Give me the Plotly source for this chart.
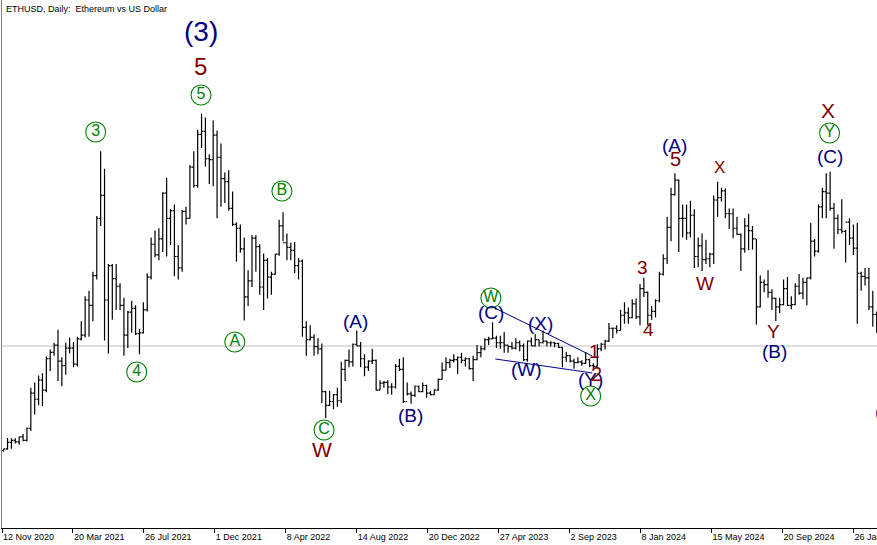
import pandas as pd
import plotly.graph_objects as go

# weekly bars (ETHUSD), weeks starting Thursdays
FIRST_WEEK = "2020-11-12"
FIRST_OPEN = 460

week_high = [
    480, 622, 620, 620, 640, 675, 760, 1280, 1350, 1440, 1470, 1690, 1780, 1870, 2040, 1680,
    1870, 1940, 1880, 1950, 2150, 2480, 2550, 2800, 3530, 4380, 4150, 2900, 2900, 2900, 2650, 2460,
    2290, 2420, 2360, 2050, 2400, 2780, 3250, 3340, 3370, 3840, 4030, 3620, 3680, 3150, 3610, 3650,
    4200, 4380, 4660, 4870, 4820, 4340, 4780, 4650, 4480, 4100, 4130, 3850, 3450, 3420, 3250, 2820,
    3280, 3280, 3160, 3040, 2980, 2800, 3030, 3480, 3580, 3300, 3180, 3190, 2980, 2960, 2150, 2100,
    1980, 1930, 1860, 1240, 1240, 1200, 1280, 1620, 1650, 1780, 1860, 2030, 1880, 1720, 1640, 1790,
    1650, 1380, 1370, 1380, 1340, 1590, 1660, 1680, 1350, 1230, 1310, 1310, 1350, 1320, 1240, 1260,
    1400, 1610, 1680, 1660, 1720, 1690, 1740, 1680, 1670, 1700, 1840, 1830, 1930, 1950, 2140, 1960,
    1960, 2010, 1840, 1880, 1930, 1900, 1860, 1900, 1940, 1980, 1910, 2030, 1900, 1890, 1880, 1870,
    1810, 1750, 1710, 1660, 1680, 1640, 1750, 1660, 1600, 1850, 1870, 1910, 2130, 2070, 2100, 2300,
    2400, 2330, 2440, 2450, 2640, 2720, 2540, 2350, 2440, 2800, 3030, 3520, 3900, 4090, 4010, 3680,
    3680, 3730, 3620, 3250, 3300, 3220, 3050, 3800, 3980, 3900, 3890, 3630, 3630, 3520, 3300, 3500,
    3560, 3400, 3230, 2750, 2700, 2820, 2570, 2460, 2460, 2700, 2730, 2480, 2650, 2770, 2720, 2720,
    3440, 3230, 3680, 3900, 4090, 4110, 3700, 3550, 3750, 3350, 3500, 3420, 3440, 2800, 2850, 2850,
    2550, 2280,
]
week_low = [
    445, 468, 480, 550, 535, 580, 580, 715, 930, 1050, 1040, 1220, 1500, 1700, 1370, 1300,
    1450, 1730, 1550, 1560, 1900, 1940, 1950, 2150, 2700, 3400, 1900, 1730, 2170, 2300, 2300, 1700,
    1800, 2000, 1970, 1720, 1990, 2280, 2700, 2990, 2950, 3060, 3000, 3150, 2740, 2700, 2800, 3420,
    3500, 3900, 3900, 4420, 4180, 3950, 3920, 3500, 3650, 3700, 3600, 3400, 2930, 3050, 2160, 2350,
    2600, 2800, 2500, 2300, 2450, 2500, 2760, 3010, 3200, 2950, 2950, 2780, 2700, 1950, 1700, 1900,
    1700, 1720, 1080, 880, 1040, 1000, 1030, 1080, 1370, 1550, 1560, 1830, 1550, 1430, 1500, 1590,
    1240, 1250, 1280, 1200, 1190, 1270, 1500, 1080, 1180, 1070, 1160, 1220, 1220, 1150, 1180, 1190,
    1240, 1390, 1510, 1540, 1610, 1460, 1600, 1560, 1520, 1370, 1640, 1680, 1770, 1840, 1920, 1800,
    1790, 1740, 1740, 1780, 1780, 1760, 1630, 1620, 1830, 1820, 1820, 1860, 1820, 1820, 1810, 1800,
    1550, 1620, 1610, 1530, 1600, 1570, 1590, 1550, 1520, 1560, 1760, 1780, 1880, 1930, 1990, 2030,
    2120, 2120, 2190, 2180, 2100, 2470, 2100, 2170, 2200, 2400, 2750, 2900, 3200, 3800, 3060, 3250,
    3220, 3250, 2850, 2860, 2810, 2900, 2860, 2900, 3520, 3720, 3500, 3360, 3240, 3280, 2810, 3050,
    3080, 3090, 2110, 2330, 2530, 2460, 2300, 2150, 2260, 2360, 2350, 2310, 2360, 2500, 2440, 2360,
    2700, 3000, 3050, 3500, 3500, 3600, 3100, 3290, 3300, 2920, 3150, 3020, 2120, 2550, 2620, 2300,
    2080, 2000,
]
week_close = [
    480, 565, 590, 570, 636, 590, 750, 1210, 1130, 1380, 1250, 1660, 1745, 1840, 1630, 1570,
    1800, 1800, 1590, 1920, 1970, 2430, 2360, 2750, 3500, 3800, 2430, 2880, 2710, 2610, 2360, 1970,
    2270, 2320, 1990, 2000, 2300, 2730, 3160, 3020, 3230, 3830, 3500, 3600, 3000, 2850, 3590, 3500,
    4170, 3930, 4600, 4640, 4280, 4270, 4590, 4300, 4020, 3980, 3630, 3420, 3370, 3100, 2470, 2680,
    3240, 3130, 2600, 2950, 2730, 2770, 3030, 3400, 3180, 3120, 3080, 2880, 2940, 2070, 1910, 1940,
    1820, 1790, 1230, 1050, 1100, 1190, 1110, 1520, 1640, 1620, 1850, 1830, 1660, 1550, 1630, 1640,
    1250, 1340, 1350, 1290, 1290, 1560, 1520, 1100, 1200, 1180, 1300, 1230, 1310, 1210, 1190, 1250,
    1390, 1510, 1610, 1640, 1650, 1680, 1640, 1660, 1530, 1650, 1740, 1790, 1910, 1920, 1930, 1870,
    1870, 1840, 1820, 1800, 1870, 1830, 1650, 1890, 1830, 1910, 1870, 1890, 1870, 1870, 1860, 1810,
    1680, 1700, 1630, 1610, 1620, 1600, 1650, 1570, 1560, 1790, 1850, 1890, 2060, 2060, 2030, 2230,
    2260, 2200, 2380, 2210, 2580, 2530, 2230, 2280, 2420, 2770, 2970, 3380, 3810, 4000, 3500, 3500,
    3310, 3540, 3000, 3140, 2960, 2970, 3030, 3740, 3770, 3860, 3560, 3560, 3370, 3290, 3100, 3400,
    3340, 3230, 2340, 2660, 2630, 2530, 2450, 2340, 2370, 2580, 2360, 2370, 2610, 2520, 2660, 2720,
    3200, 3070, 3650, 3850, 3830, 3630, 3500, 3350, 3330, 3450, 3240, 3110, 2780, 2740, 2720, 2340,
    2240, 2050,
]
week_open = [FIRST_OPEN] + week_close[:-1]

tick_dates = ["2020-11-12", "2021-03-20", "2021-07-26", "2021-12-01", "2022-04-08", "2022-08-14",
              "2022-12-20", "2023-04-27", "2023-09-02", "2024-01-08", "2024-05-15", "2024-09-20",
              "2025-01-26"]
tick_text = ["12 Nov 2020", "20 Mar 2021", "26 Jul 2021", "1 Dec 2021", "8 Apr 2022", "14 Aug 2022",
             "20 Dec 2022", "27 Apr 2023", "2 Sep 2023", "8 Jan 2024", "15 May 2024", "20 Sep 2024",
             "26 Jan 2025"]

bid_price = 1827

NAVY = "#000080"
MAROON = "#800000"
GREEN = "#008000"

# wave labels: date, price, text, colour, font size
wave_labels = [
    ("2021-11-06", 5941, "(3)", NAVY, 28),
    ("2021-11-06", 5495, "5", MAROON, 24),
    ("2022-06-12", 465, "W", MAROON, 21),
    ("2022-08-11", 2142, "(A)", NAVY, 19),
    ("2022-11-19", 923, "(B)", NAVY, 19),
    ("2023-04-13", 2260, "(C)", NAVY, 19),
    ("2023-07-12", 2116, "(X)", NAVY, 19),
    ("2023-06-17", 1526, "(W)", NAVY, 19),
    ("2023-10-17", 1749, "1", MAROON, 19),
    ("2023-10-10", 1382, "(Y)", NAVY, 19),
    ("2023-10-21", 1461, "2", MAROON, 20),
    ("2024-01-12", 2862, "3", MAROON, 19),
    ("2024-01-22", 2037, "4", MAROON, 19),
    ("2024-03-09", 4460, "(A)", NAVY, 19),
    ("2024-03-11", 4277, "5", MAROON, 20),
    ("2024-05-30", 4172, "X", MAROON, 17),
    ("2024-05-03", 2640, "W", MAROON, 19),
    ("2024-09-04", 2011, "Y", MAROON, 19),
    ("2024-09-05", 1749, "(B)", NAVY, 19),
    ("2024-12-12", 4919, "X", MAROON, 21),
    ("2024-12-15", 4316, "(C)", NAVY, 19),
]

# circled labels (green)
circle_dates = ["2021-11-06", "2021-04-30", "2021-07-13", "2022-01-06", "2022-04-01", "2022-06-16",
                "2023-04-13", "2023-10-10", "2024-12-14"]
circle_prices = [5115, 4631, 1487, 1880, 3858, 727, 2456, 1172, 4618]
circle_text = ["5", "3", "4", "A", "B", "C", "W", "X", "Y"]

# hand drawn trend lines
upper_line_dates = ["2023-04-20", "2023-10-13"]
upper_line_prices = [2325, 1696]
lower_line_dates = ["2023-04-21", "2023-10-13"]
lower_line_prices = [1657, 1474]

week_start = pd.date_range(FIRST_WEEK, periods=len(week_close), freq="7D")
bar_x = week_start + pd.Timedelta(days=3)

fig = go.Figure()
fig.add_trace(go.Ohlc(x=bar_x, open=week_open, high=week_high, low=week_low, close=week_close,
                      increasing_line_color="black", decreasing_line_color="black",
                      line_width=1.2, tickwidth=0.45, hoverinfo="skip", showlegend=False))

fig.add_trace(go.Scatter(x=upper_line_dates, y=upper_line_prices, mode="lines",
                         line=dict(color=NAVY, width=1), hoverinfo="skip", showlegend=False))
fig.add_trace(go.Scatter(x=lower_line_dates, y=lower_line_prices, mode="lines",
                         line=dict(color=NAVY, width=1), hoverinfo="skip", showlegend=False))

fig.add_trace(go.Scatter(x=circle_dates, y=circle_prices, mode="markers+text", text=circle_text,
                         textposition="middle center",
                         textfont=dict(family="Liberation Sans", size=16, color=GREEN),
                         marker=dict(symbol="circle-open", size=20, color=GREEN, line=dict(width=1.1)),
                         hoverinfo="skip", showlegend=False, cliponaxis=False))

annotations = []
for d, p, t, c, s in wave_labels:
    annotations.append(dict(x=d, y=p, xref="x", yref="y", text=t, showarrow=False,
                            xanchor="center", yanchor="middle",
                            font=dict(family="Liberation Sans", size=s, color=c)))
# label cut off by the right edge
annotations.append(dict(x=1, y=963, xref="paper", yref="y", text="(C)", showarrow=False,
                        xanchor="left", xshift=-4, yanchor="middle",
                        font=dict(family="Liberation Sans", size=19, color=NAVY)))
annotations.append(dict(x=0, y=1, xref="paper", yref="paper", text="ETHUSD, Daily:  Ethereum vs US Dollar",
                        showarrow=False, xanchor="left", yanchor="top", xshift=2, yshift=-2,
                        font=dict(family="Liberation Sans", size=9, color="black")))

fig.add_shape(type="line", xref="paper", x0=0, x1=1, yref="y", y0=bid_price, y1=bid_price,
              line=dict(color="#c0c0c0", width=1), layer="below")

fig.update_layout(
    width=877, height=545,
    margin=dict(l=2, r=0, t=0, b=17, autoexpand=False),
    paper_bgcolor="white", plot_bgcolor="white",
    annotations=annotations,
    xaxis=dict(range=["2020-11-12", "2025-03-09 14:00"], rangeslider=dict(visible=False),
               tickvals=tick_dates, ticktext=tick_text, ticks="outside", ticklen=4,
               tickcolor="black", ticklabelposition="outside right", ticklabeloverflow="allow",
               automargin=False,
               tickfont=dict(family="Liberation Sans", size=9, color="black"),
               showgrid=False, zeroline=False, showline=True, linecolor="black", linewidth=1),
    yaxis=dict(range=[-557, 6360], showticklabels=False, ticks="", showgrid=False, automargin=False,
               zeroline=False, showline=True, linecolor="#808080", linewidth=1),
)

# the page's default body margin would push the chart 8px off
fig.write_html("out.html", config={"displayModeBar": False},
               post_script="document.body.style.margin = '0';")
